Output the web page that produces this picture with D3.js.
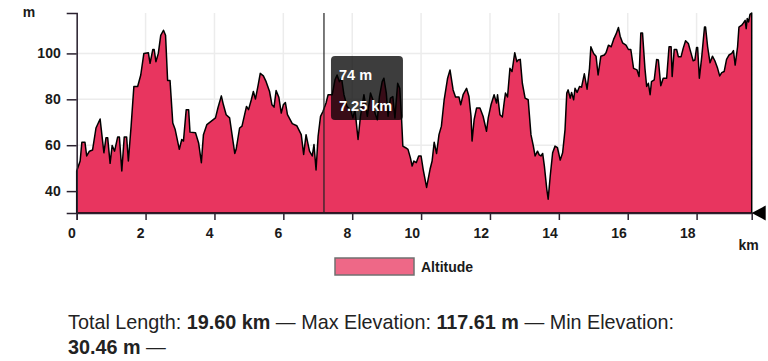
<!DOCTYPE html>
<html>
<head>
<meta charset="utf-8">
<script src="https://cdn.jsdelivr.net/npm/d3@7"></script>
<style>
body { margin: 0; background: #fff; }
svg { display: block; font-family: "Liberation Sans", Arial, Helvetica, sans-serif; }
.grid line { stroke: #ececec; stroke-width: 1.5; }
.axis path, .axis line { stroke: #2b2230; stroke-width: 1.5; fill: none; }
.axis text { font-size: 14px; font-weight: bold; fill: #1a1a1a; }
.axis-label { font-size: 14px; font-weight: bold; fill: #1a1a1a; }
.area { fill: #e8355f; stroke: #000; stroke-width: 1.5; stroke-linejoin: round; }
.hover-line { stroke: #222; stroke-width: 1.2; }
.tip-box { fill: rgba(0, 0, 0, 0.76); }
.tip-text { fill: #fff; font-size: 14.5px; font-weight: bold; }
.legend-swatch { fill: #e8355f; fill-opacity: 0.75; stroke: #707070; stroke-width: 1.5; }
.legend-text { font-size: 14px; font-weight: bold; fill: #1a1a1a; }
.summary { font-size: 19.8px; fill: #222; white-space: pre; }
.summary .val { font-weight: bold; }
</style>
</head>
<body>
<svg width="768" height="361"></svg>
<script>
'use strict';

///////////////////////////// data  ///////////////////////////
var distances = [
    0, 0.10, 0.15, 0.24, 0.29, 0.37, 0.46, 0.56, 0.68, 0.79, 0.85, 0.90, 0.97, 1.03, 1.10, 1.19, 1.24, 1.31, 1.38, 1.45,
    1.50, 1.58, 1.66, 1.77, 1.86, 1.95, 2.08, 2.13, 2.21, 2.25, 2.30, 2.37, 2.44, 2.52, 2.58, 2.64, 2.71, 2.79, 2.86, 2.98,
    3.05, 3.10, 3.18, 3.25, 3.29, 3.45, 3.54, 3.62, 3.68, 3.78, 3.90, 4.03, 4.10, 4.20, 4.26, 4.34, 4.44, 4.59, 4.63, 4.73,
    4.80, 4.93, 4.99, 5.07, 5.13, 5.19, 5.27, 5.33, 5.42, 5.50, 5.60, 5.67, 5.73, 5.79, 5.87, 5.94, 6.00, 6.06, 6.12, 6.26,
    6.39, 6.52, 6.59, 6.66, 6.76, 6.84, 6.89, 6.95, 7.01, 7.08, 7.15, 7.24, 7.30, 7.42, 7.50, 7.56, 7.63, 7.69, 7.76, 7.85,
    7.95, 8.02, 8.08, 8.12, 8.17, 8.24, 8.34, 8.44, 8.53, 8.60, 8.66, 8.73, 8.79, 8.87, 8.92, 8.99, 9.04, 9.11, 9.18, 9.24,
    9.32, 9.38, 9.43, 9.47, 9.55, 9.62, 9.69, 9.74, 9.79, 9.86, 9.93, 10.00, 10.06, 10.16, 10.26, 10.32, 10.38, 10.45, 10.52, 10.59,
    10.67, 10.77, 10.84, 10.93, 11.00, 11.10, 11.15, 11.22, 11.32, 11.39, 11.45, 11.48, 11.54, 11.61, 11.71, 11.80, 11.90, 11.95, 12.03, 12.12,
    12.19, 12.22, 12.29, 12.36, 12.41, 12.45, 12.51, 12.58, 12.64, 12.72, 12.78, 12.82, 12.88, 12.94, 13.02, 13.11, 13.19, 13.26, 13.31, 13.38,
    13.43, 13.48, 13.53, 13.58, 13.65, 13.69, 13.75, 13.82, 13.89, 13.96, 14.04, 14.11, 14.18, 14.23, 14.27, 14.33, 14.37, 14.43, 14.47, 14.53,
    14.60, 14.66, 14.74, 14.82, 14.89, 14.93, 15.01, 15.08, 15.14, 15.22, 15.32, 15.37, 15.44, 15.52, 15.59, 15.66, 15.73, 15.78, 15.85, 15.95,
    16.02, 16.09, 16.17, 16.27, 16.33, 16.38, 16.43, 16.50, 16.55, 16.60, 16.65, 16.69, 16.77, 16.84, 16.89, 16.96, 17.03, 17.13, 17.20, 17.26,
    17.29, 17.35, 17.42, 17.47, 17.55, 17.61, 17.68, 17.76, 17.84, 17.90, 17.95, 18.00, 18.03, 18.08, 18.15, 18.23, 18.26, 18.32, 18.39, 18.46,
    18.53, 18.61, 18.67, 18.73, 18.80, 18.87, 18.94, 19.02, 19.07, 19.12, 19.19, 19.23, 19.31, 19.36, 19.41, 19.44, 19.47, 19.51, 19.55, 19.60
];
var altitudes = [
    48.8, 53.1, 61.3, 61.3, 55.3, 57.4, 57.9, 67.5, 71.4, 56.7, 63.2, 63.2, 52.1, 59.9, 57.4, 63.6, 63.6, 48.8, 63.6, 63.6,
    53.1, 68.3, 85.6, 85.6, 90.6, 100.0, 100.3, 95.7, 101.7, 101.7, 96.4, 100.0, 107.9, 110.1, 107.9, 88.2, 88.2, 69.7, 66.8, 58.2,
    62.5, 61.8, 75.5, 75.5, 65.7, 65.4, 61.0, 52.4, 64.6, 69.0, 70.4, 71.9, 76.2, 81.5, 77.6, 73.3, 71.9, 56.4, 58.2, 67.5,
    68.3, 76.9, 75.5, 79.8, 83.4, 80.1, 86.3, 91.3, 90.2, 87.7, 83.4, 77.6, 76.6, 83.8, 80.9, 74.0, 77.6, 78.6, 73.3, 69.4,
    68.5, 64.6, 56.0, 64.6, 57.4, 55.3, 60.3, 49.2, 63.9, 72.6, 74.7, 78.4, 82.0, 82.0, 88.5, 90.6, 87.7, 89.2, 82.0, 76.9,
    75.5, 71.9, 75.5, 69.7, 62.5, 72.6, 82.0, 72.6, 82.7, 79.8, 74.0, 71.1, 81.2, 87.7, 89.2, 82.7, 72.6, 80.5, 81.2, 71.9,
    87.0, 84.8, 72.6, 59.6, 58.9, 58.2, 54.5, 50.9, 53.1, 52.4, 55.3, 55.3, 49.5, 41.6, 49.5, 53.1, 61.3, 56.4, 64.6, 68.3,
    79.8, 89.2, 92.8, 84.1, 81.0, 81.0, 77.6, 82.0, 84.8, 81.2, 72.6, 61.8, 71.1, 76.2, 76.2, 72.6, 66.1, 71.9, 77.6, 82.0,
    78.4, 82.0, 73.3, 72.3, 78.4, 82.7, 81.0, 93.5, 92.1, 100.3, 96.4, 97.1, 97.4, 87.0, 80.5, 79.8, 64.6, 59.6, 55.3, 57.4,
    55.8, 55.3, 56.4, 50.9, 40.8, 36.5, 46.6, 56.7, 59.6, 58.9, 53.5, 56.7, 66.8, 82.7, 84.1, 80.5, 83.0, 79.8, 84.8, 83.0,
    85.6, 85.3, 91.1, 84.4, 93.5, 102.9, 100.0, 98.8, 90.6, 98.8, 99.3, 100.3, 103.6, 102.9, 106.1, 108.4, 111.3, 107.5, 104.6, 103.6,
    101.7, 101.7, 93.5, 92.8, 89.9, 108.9, 108.9, 93.5, 85.6, 87.0, 82.0, 87.7, 88.5, 97.4, 97.1, 85.9, 89.2, 89.2, 102.9, 102.9,
    89.9, 101.7, 101.7, 98.6, 98.6, 102.2, 105.5, 104.3, 100.0, 96.8, 97.1, 102.6, 102.6, 89.2, 98.6, 111.5, 111.5, 102.9, 95.9, 98.8,
    96.8, 93.5, 90.2, 91.6, 92.1, 97.4, 99.3, 100.0, 101.2, 94.9, 102.9, 111.5, 112.3, 113.3, 114.4, 110.8, 115.2, 113.7, 117.0, 117.6
];
var xTicks = [0, 2, 4, 6, 8, 10, 12, 14, 16, 18];
var yTicks = [40, 60, 80, 100];
var totalKm = 19.60, maxElev = 117.61, minElev = 30.46;
var hoverKm = 7.18;
var hoverLabels = ['74 m', '7.25 km'];
var legendLabels = ['Altitude'];
var summaryParts = [
    ['Total Length: ', '19.60 km', ' \u2014 Max Elevation: ', '117.61 m', ' \u2014 Min Elevation:'],
    ['', '30.46 m', ' \u2014']
];

///////////////////////////// set up  ///////////////////////////
var margin = {top: 13, left: 76.7},
    width = 675,
    height = 200,
    svg = d3.select('svg'),
    canvas = svg.append('g').attr('transform', 'translate(' + margin.left + ',' + margin.top + ')');

var profile = distances.map(function(d, i) { return {km: d, alt: altitudes[i]}; });

var x = d3.scaleLinear().domain([0, totalKm]).range([0, width]);
var y = d3.scaleLinear().domain([minElev, maxElev]).range([height, 0]);

// grid
var grid = canvas.append('g').attr('class', 'grid');
grid.selectAll('.gx').data(xTicks).enter().append('line')
    .attr('x1', function(d) { return x(d); }).attr('x2', function(d) { return x(d); })
    .attr('y1', 0).attr('y2', height);
grid.selectAll('.gy').data(yTicks).enter().append('line')
    .attr('x1', 0).attr('x2', width)
    .attr('y1', function(d) { return y(d); }).attr('y2', function(d) { return y(d); });

// area
var area = d3.area()
    .x(function(d) { return x(d.km); })
    .y0(height)
    .y1(function(d) { return y(d.alt); });
canvas.append('path')
    .datum(profile)
    .attr('class', 'area')
    .attr('d', area);

// axes
var xAxis = canvas.append('g')
    .attr('class', 'axis axis--x')
    .attr('transform', 'translate(0,' + height + ')')
    .call(d3.axisBottom(x).tickValues(xTicks).tickSize(7).tickSizeOuter(7).tickPadding(8).tickFormat(d3.format('d')));
xAxis.selectAll('text').attr('text-anchor', 'end').attr('dx', -1.5);

canvas.append('g')
    .attr('class', 'axis axis--y')
    .call(d3.axisLeft(y).tickValues(yTicks).tickSize(10).tickSizeOuter(10).tickPadding(6));

canvas.append('text')
    .attr('class', 'axis-label')
    .attr('x', width - 3)
    .attr('y', height + 37)
    .attr('text-anchor', 'middle')
    .text('km');
canvas.append('text')
    .attr('class', 'axis-label')
    .attr('x', -54)
    .attr('y', 4)
    .text('m');

// end marker
canvas.append('path')
    .attr('d', 'M' + x(totalKm) + ',' + height + 'l14,-7.5l0,15z')
    .attr('fill', '#000');

////////////////////////////// hover tooltip /////////////////////////////
canvas.append('line')
    .attr('class', 'hover-line')
    .attr('x1', x(hoverKm)).attr('x2', x(hoverKm))
    .attr('y1', 0).attr('y2', height);
var tip = canvas.append('g')
    .attr('transform', 'translate(' + (x(hoverKm) + 7) + ',' + 43 + ')');
tip.append('rect')
    .attr('class', 'tip-box')
    .attr('width', 72).attr('height', 64)
    .attr('rx', 4).attr('ry', 4);
tip.selectAll('.tip-text').data(hoverLabels).enter().append('text')
    .attr('class', 'tip-text')
    .attr('x', 8)
    .attr('y', function(d, i) { return 24 + i * 31; })
    .text(function(d) { return d; });

////////////////////////////// legend /////////////////////////////
var legend = svg.append('g').attr('transform', 'translate(335,258)');
legend.append('rect')
    .attr('class', 'legend-swatch')
    .attr('width', 79).attr('height', 17);
legend.append('text')
    .attr('class', 'legend-text')
    .attr('x', 86).attr('y', 13.5)
    .text(legendLabels[0]);

////////////////////////////// summary /////////////////////////////
summaryParts.forEach(function(parts, li) {
    var t = svg.append('text')
        .attr('class', 'summary')
        .attr('x', 68)
        .attr('y', 329 + li * 25);
    parts.forEach(function(p, i) {
        if (!p) { return; }
        t.append('tspan')
            .attr('class', i % 2 ? 'val' : null)
            .text(p);
    });
});
</script>
</body>
</html>
